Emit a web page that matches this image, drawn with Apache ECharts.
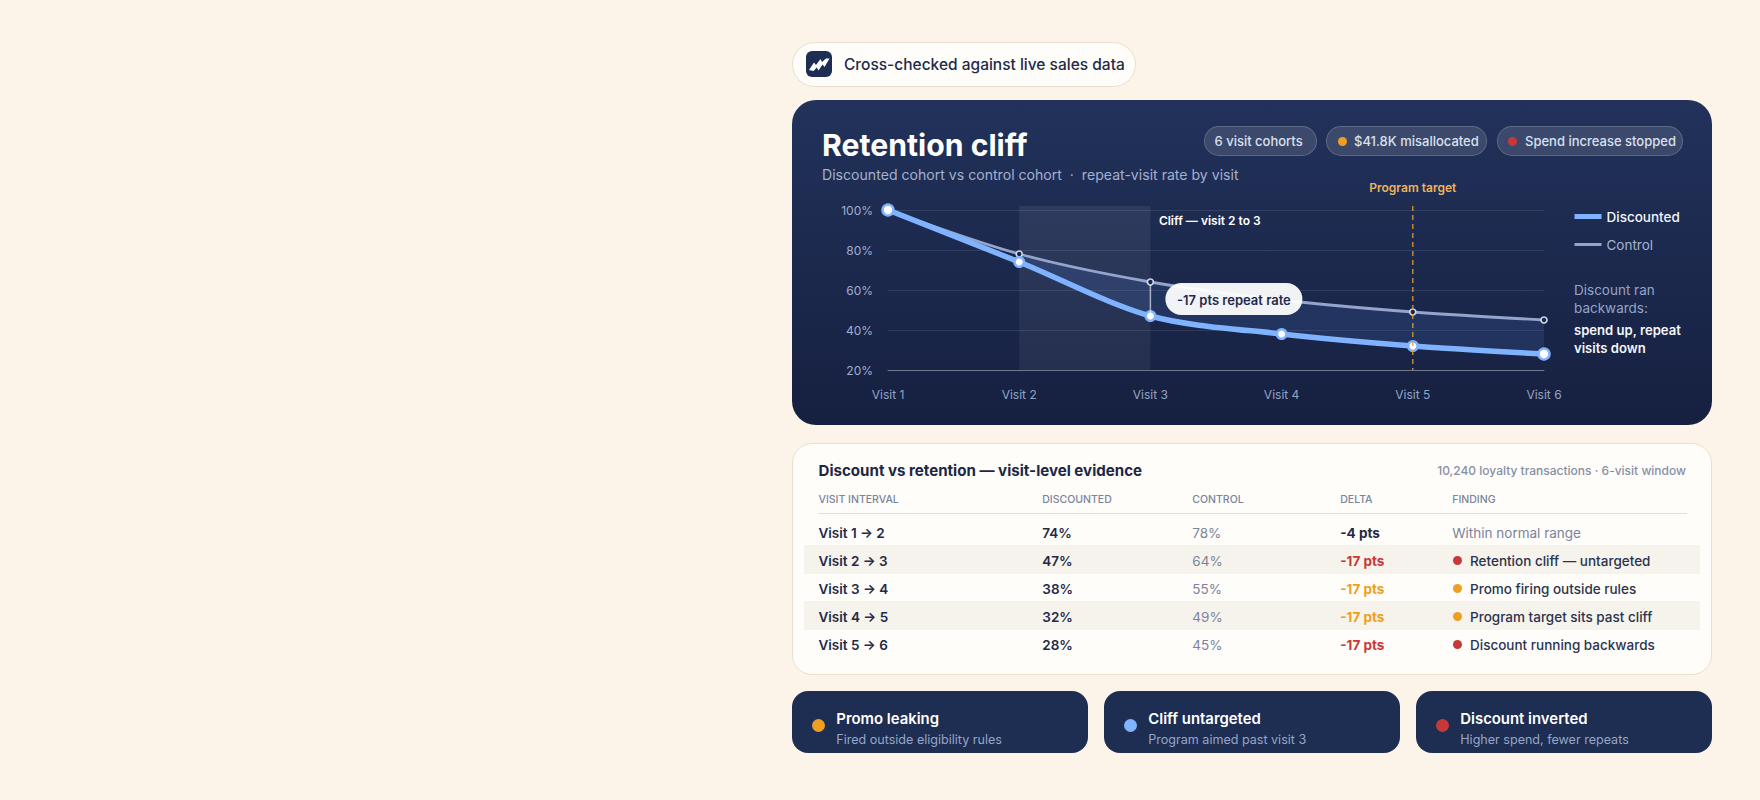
<!DOCTYPE html>
<html><head><meta charset="utf-8">
<script src="https://cdn.jsdelivr.net/npm/echarts@6/dist/echarts.min.js"></script>
<style>
*{box-sizing:border-box;margin:0;padding:0}
html,body{width:1760px;height:800px;overflow:hidden;background:#FCF4E9;font-family:Inter,"Noto Sans",sans-serif;color:#1E2A47}
.abs{position:absolute;white-space:nowrap}
.c{transform:translateY(-50%)}
#pill{left:792px;top:42px;width:344px;height:45px;border-radius:23px;background:#FFFDF9;border:1.5px solid #E8DFCF}
#hero{left:792px;top:100px;width:920px;height:325px;border-radius:24px;background:linear-gradient(180deg,#22325B 0%,#162040 100%)}
#chart{left:792px;top:100px;width:920px;height:325px}
.chip{height:30px;top:126px;border-radius:15px;background:rgba(255,255,255,.12);border:1px solid rgba(255,255,255,.18);color:#D9E0EE;font-size:13px;font-weight:500;line-height:29px}
#tbl{left:792px;top:443px;width:920px;height:232px;border-radius:20px;background:#FFFDF9;border:1.5px solid #E8DFCF}
.card{top:691px;width:296px;height:62px;border-radius:16px;background:#1E2D52}
</style></head><body>
<div id="root"></div>
<div id="chart" class="abs"></div>
<script>
const visits = ['Visit 1','Visit 2','Visit 3','Visit 4','Visit 5','Visit 6'];
const discounted = [100,74,47,38,32,28];
const control = [100,78,64,55,49,45];
const intervals = ['Visit 1 → 2','Visit 2 → 3','Visit 3 → 4','Visit 4 → 5','Visit 5 → 6'];
const discountedCol = ['74%','47%','38%','32%','28%'];
const controlCol = ['78%','64%','55%','49%','45%'];
const deltas = ['-4 pts','-17 pts','-17 pts','-17 pts','-17 pts'];
const findings = ['Within normal range','Retention cliff — untargeted','Promo firing outside rules','Program target sits past cliff','Discount running backwards'];
const tones = ['none','red','amber','amber','red'];
const headers = ['VISIT INTERVAL','DISCOUNTED','CONTROL','DELTA','FINDING'];
const chips = ['6 visit cohorts','$41.8K misallocated','Spend increase stopped'];
const cards = [['Promo leaking','Fired outside eligibility rules'],['Cliff untargeted','Program aimed past visit 3'],['Discount inverted','Higher spend, fewer repeats']];

const RED='#C93838',AMBER='#EE9F22',BLUE='#80B3FF';
const root=document.getElementById('root');
function el(css,html,cls){const d=document.createElement('div');d.className='abs '+(cls||'');d.style.cssText=css;d.innerHTML=html||'';root.appendChild(d);return d;}
function txt(x,y,s,size,weight,color,extra){return el(`left:${x}px;top:${y}px;font-size:${size}px;font-weight:${weight};color:${color};line-height:1;${extra||''}`,s,'c');}

// top badge
el('','', '').id='pill';
el(`left:806px;top:51px;width:26px;height:26px;border-radius:6px;background:#1E2D52`,
 '<svg width="26" height="26" viewBox="0 0 26 26"><path d="M3 19 L8 11.5 L10 14 L14.5 8 L16 11 L20 7.5 L23.5 7.5 L18.5 16 L16.5 13.5 L12.5 19.5 L10.8 16.5 L7.5 20 Z" fill="#fff"/></svg>');
txt(844,64.5,'Cross-checked against live sales data',15.5,500,'#1E2A47');

// hero
el('','').id='hero';
txt(822,145,'Retention cliff',30.2,700,'#FFFFFF');
txt(822,175,'Discounted cohort vs control cohort &nbsp;·&nbsp; repeat-visit rate by visit',14.1,400,'#A3B0CF');
el('left:1203.5px;width:113px;padding-left:10px',chips[0],'chip');
el('left:1326px;width:161px;padding-left:27px',chips[1],'chip');
el('left:1497px;width:186px;padding-left:27px',chips[2],'chip');
el(`left:1338px;top:137px;width:9px;height:9px;border-radius:50%;background:${AMBER}`);
el(`left:1508px;top:137px;width:9px;height:9px;border-radius:50%;background:${RED}`);
txt(1574,291,'Discount ran',13.5,400,'#95A4C6');
txt(1574,309,'backwards:',13.5,400,'#95A4C6');
txt(1574,331,'spend up, repeat',13.1,600,'#F5F7FB');
txt(1574,349,'visits down',13.1,600,'#F5F7FB');

// table
el('','').id='tbl';
txt(818.5,471,'Discount vs retention — visit-level evidence',15.1,700,'#1B2745');
el('right:74px;top:471px;font-size:12px;line-height:1;color:#868FA6;font-weight:500','10,240 loyalty transactions · 6-visit window','c');
const cols=[818.5,1042.3,1192.3,1340.3,1452.3];
headers.forEach((h,i)=>txt(cols[i],500,h,10.5,500,'#7A849C'));
el('left:818px;top:513px;width:869px;height:1px;background:#E8DFCF');
const rowY=i=>534.2+i*28;
[1,3].forEach(i=>el(`left:804px;top:${rowY(i)-17}px;width:896px;height:28.4px;background:#F6F3EC`));
intervals.forEach((s,i)=>{
 const y=rowY(i);
 txt(cols[0],y,s,13.5,600,'#1E2A47');
 txt(cols[1],y,discountedCol[i],13.5,600,'#1E2A47');
 txt(cols[2],y,controlCol[i],13.5,400,'#7A849C');
 const col=tones[i]==='red'?RED:tones[i]==='amber'?AMBER:'#1E2A47';
 txt(cols[3],y,deltas[i],13.5,700,col);
 if(tones[i]==='none'){txt(cols[4],y,findings[i],13.5,400,'#7A849C');}
 else{
  el(`left:1453px;top:${y-6.5}px;width:9px;height:9px;border-radius:50%;background:${col}`);
  txt(1470,y,findings[i],13.5,500,'#2A344F');
 }
});

// bottom cards
const dots=[AMBER,BLUE,RED];
cards.forEach((c,i)=>{
 const x=792+i*312;
 el(`left:${x}px`,'','card');
 el(`left:${x+19.5}px;top:719px;width:13px;height:13px;border-radius:50%;background:${dots[i]}`);
 txt(x+44.3,718.5,c[0],14.9,600,'#FFFFFF');
 txt(x+44.3,740,c[1],12.55,400,'#97A6C6');
});

// chart
const chart=echarts.init(document.getElementById('chart'),null,{renderer:'svg'});
const gapBase=['-',...discounted.slice(1)];
const gapFill=['-',...control.slice(1).map((v,i)=>v-discounted[i+1])];
const SMOOTH=0.3;
const font={fontFamily:'Inter, "Noto Sans", sans-serif'};
function textEl(x,y,text,size,weight,fill,align){
 return {type:'text',style:{x,y,text,fontSize:size,fontWeight:weight,fill,align:align||'left',verticalAlign:'middle',...font}};
}
chart.setOption({
 animation:false,
 grid:{left:96,right:168,top:110,bottom:55},
 xAxis:{type:'category',data:visits,boundaryGap:false,
  axisLine:{lineStyle:{color:'rgba(255,255,255,.32)',width:1}},axisTick:{show:false},
  axisLabel:{color:'#94A3C4',fontSize:12,margin:18,...font}},
 yAxis:{type:'value',min:20,max:100,interval:20,
  axisLabel:{color:'#A1AECB',fontSize:12,margin:15,formatter:'{value}%',...font},
  axisLine:{show:false},axisTick:{show:false},
  splitLine:{lineStyle:{color:'rgba(255,255,255,.1)',width:1}}},
 legend:[
  {data:['Discounted'],left:782.5,top:109.5,padding:0,icon:'rect',itemWidth:27,itemHeight:5,itemGap:0,selectedMode:false,
   itemStyle:{color:BLUE,borderWidth:0},textStyle:{color:'#F2F5FB',fontSize:13.5,fontWeight:500,...font}},
  {data:['Control'],left:782.5,top:137.5,padding:0,icon:'rect',itemWidth:27,itemHeight:3,itemGap:0,selectedMode:false,
   itemStyle:{color:'#93A5CC',borderWidth:0},textStyle:{color:'#A5B3D1',fontSize:13.5,fontWeight:400,...font}}
 ],
 series:[
  {type:'custom',name:'band',z:1,silent:true,clip:false,data:[0],renderItem(p,api){
    const a=api.coord([1,102]),b=api.coord([2,20]);
    return {type:'rect',shape:{x:a[0],y:a[1],width:b[0]-a[0],height:b[1]-a[1]},
      style:{fill:new echarts.graphic.LinearGradient(0,0,0,1,[{offset:0,color:'rgba(255,255,255,.07)'},{offset:1,color:'rgba(255,255,255,.055)'}])}};
  }},
  {type:'line',name:'gapBase',stack:'gap',data:gapBase,smooth:SMOOTH,symbol:'none',lineStyle:{opacity:0},z:2,silent:true},
  {type:'line',name:'gapFill',stack:'gap',data:gapFill,smooth:SMOOTH,symbol:'none',lineStyle:{opacity:0},z:2,silent:true,
    areaStyle:{color:'rgba(80,130,225,.22)'}},
  {type:'line',name:'Control',data:control,smooth:SMOOTH,z:3,
    lineStyle:{color:'#93A5CC',width:2.8},symbol:'circle',symbolSize:6,
    itemStyle:{color:'#1A2748',borderColor:'#D3DBEC',borderWidth:1.6}},
  {type:'line',name:'Discounted',data:discounted,smooth:SMOOTH,z:4,
    lineStyle:{color:BLUE,width:5.5},symbol:'circle',
    symbolSize:(v,p)=>(p.dataIndex===0||p.dataIndex===5)?11:9.5,
    itemStyle:{color:'#FFFFFF',borderColor:BLUE,borderWidth:2.5}},
  {type:'custom',name:'notes',z:10,silent:true,clip:false,data:[0],renderItem(p,api){
    const i3=2,i5=4;
    const c1=api.coord([i3,control[i3]]),c2=api.coord([i3,discounted[i3]]);
    const t=api.coord([i5,102]),tb=api.coord([i5,20]);
    const px=c1[0]+15,py=c1[1]+(c2[1]-c1[1])/2-16;
    return {type:'group',children:[
      {type:'line',shape:{x1:c1[0],y1:c1[1]+3,x2:c2[0],y2:c2[1]-3},style:{stroke:'rgba(255,255,255,.6)',lineWidth:1.5}},
      {type:'line',shape:{x1:t[0],y1:t[1],x2:tb[0],y2:tb[1]},style:{stroke:'rgba(232,158,45,.82)',lineWidth:1.5,lineDash:[5,4]}},
      textEl(t[0],87,'Program target',12,600,'#EDB35A','center'),
      textEl(c1[0]+8.5,120,'Cliff — visit 2 to 3',12,600,'#FFFFFF'),
      {type:'rect',shape:{x:px,y:py,width:137,height:32,r:16},style:{fill:'rgba(255,255,255,.94)'}},
      textEl(px+68.5,py+16.5,'-17 pts repeat rate',13,600,'#1E2A4D','center')
    ]};
  }}
 ]
});
</script>
</body></html>
